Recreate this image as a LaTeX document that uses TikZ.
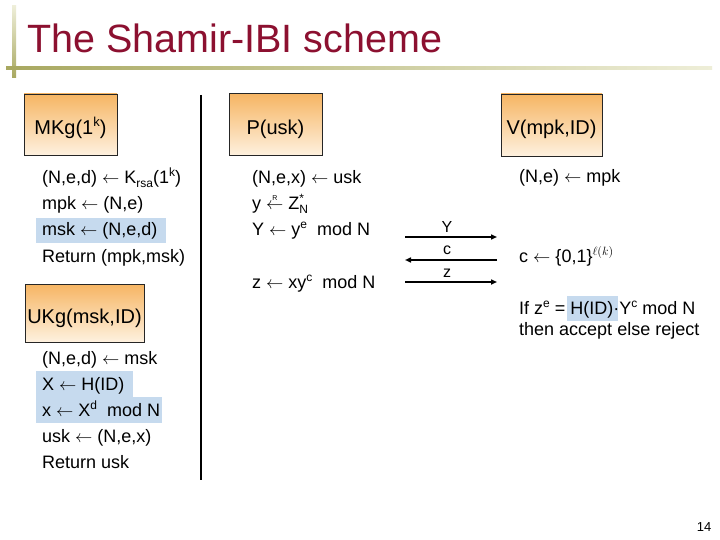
\documentclass[tikz,border=0pt]{standalone}
\usepackage{fontspec}
\setmainfont{Liberation Sans}
\usetikzlibrary{arrows.meta}
\definecolor{titlered}{HTML}{8C1030}
\definecolor{boxtop}{HTML}{F6B563}
\definecolor{boxbot}{HTML}{FEF1DF}
\definecolor{hl}{HTML}{C6DAEE}
\definecolor{olive}{HTML}{A8A860}
\definecolor{olivelight}{HTML}{EEEED8}
\newcommand{\sfs}[1]{\fontsize{#1}{#1}\selectfont}
\newcommand{\larr}{\ensuremath{\leftarrow}}
\newcommand{\up}[1]{\raisebox{7pt}{\sfs{12}#1}}
\newcommand{\bup}[1]{\raisebox{8pt}{\sfs{13}#1}}
\newcommand{\dn}[1]{\raisebox{-3.5pt}{\sfs{12}#1}}
\begin{document}
\begin{tikzpicture}[x=1pt,y=-1pt,
  algbox/.style={draw=black!85, line width=0.6pt, top color=boxtop, bottom color=boxbot,
    font=\sfs{20}, inner sep=0pt, text height=22pt, text depth=2pt},
  txt/.style={anchor=base west, font=\sfs{18}, inner sep=0pt},
  lbl/.style={font=\sfs{16}, inner sep=0pt},
  msg/.style={line width=1.5pt, -{Triangle[length=6pt,width=5pt]}},
  bar/.style={line width=1.5pt}]
\useasboundingbox (0,0) rectangle (720,540);
\fill[white] (0,0) rectangle (720,540);
% decoration
\shade[top color=olivelight, bottom color=olive] (12,6) rectangle (16,78);
\shade[left color=olive, right color=olivelight] (6,66.5) rectangle (712,70);
\node[anchor=base west, font=\sfs{39.5}, text=titlered, inner sep=0pt] (title) at (27,53) {The Shamir-IBI scheme};
% highlights
\fill[hl] (36,218) rectangle (166,243);
\fill[hl] (36,371) rectangle (133,397);
\fill[hl] (36,397) rectangle (162,423);
\fill[hl] (567,296) rectangle (618,321);
% boxes
\node[algbox, minimum width=93pt, minimum height=61pt] (mkg) at (70.5,124.5) {MKg(1\bup{k})};
\node[algbox, minimum width=93pt, minimum height=62pt] (p) at (275.5,124.5) {P(usk)};
\node[algbox, minimum width=101pt, minimum height=62pt] (v) at (551.5,125) {V(mpk,ID)};
\node[algbox, minimum width=119pt, minimum height=58pt] (ukg) at (84.5,313) {UKg(msk,ID)};
% separator
\coordinate (bt) at (201,95);
\coordinate (bb) at (201,480);
\draw[bar] (bt) -- (bb);
% MKg
\node[txt] (m1) at (42,184) {(N,e,d) \larr{} K\dn{rsa}(1\up{k})};
\node[txt] (m2) at (42,210) {mpk \larr{} (N,e)};
\node[txt] (m3) at (42,236) {msk \larr{} (N,e,d)};
\node[txt] (m4) at (42,262) {Return (mpk,msk)};
% UKg
\node[txt] (u1) at (42,364) {(N,e,d) \larr{} msk};
\node[txt] (u2) at (42,390) {X \larr{} H(ID)};
\node[txt] (u3) at (42,416) {x \larr{} X\up{d}~ mod N};
\node[txt] (u4) at (42,442) {usk \larr{} (N,e,x)};
\node[txt] (u5) at (42,468) {Return usk};
% P
\node[txt] (p1) at (252,184) {(N,e,x) \larr{} usk};
\node[txt] (p2) at (252,210) {y $\stackrel{\mbox{\raisebox{1.5pt}{\sfs{7}R}}}{\leftarrow}$ Z\rlap{\up{*}}\dn{N}};
\node[txt] (p3) at (252,236) {Y \larr{} y\up{e}~ mod N};
\node[txt] (p4) at (252,288) {z \larr{} xy\up{c}~ mod N};
% V
\node[txt] (v1) at (519,183) {(N,e) \larr{} mpk};
\node[txt] (v2) at (519,262) {c \larr{} \{0,1\}\up{$\ell(k)$}};
\node[txt] (v3) at (519,314) {If z\up{e} = H(ID)·Y\up{c} mod N};
\node[txt] (v4) at (519,335) {then accept else reject};
% messages
\coordinate (yl) at (405,237); \coordinate (yr) at (497,237);
\coordinate (cl) at (405,260); \coordinate (cr) at (497,260);
\coordinate (zl) at (405,282); \coordinate (zr) at (497,282);
\draw[msg] (yl) -- (yr);
\draw[msg] (cr) -- (cl);
\draw[msg] (zl) -- (zr);
\node[lbl] (ly) at (447,227) {Y};
\node[lbl] (lc) at (447,250) {c};
\node[lbl] (lz) at (447,273) {z};
\node[font=\sfs{13}, inner sep=0pt] (pg) at (704,527) {14};
\end{tikzpicture}
\end{document}
